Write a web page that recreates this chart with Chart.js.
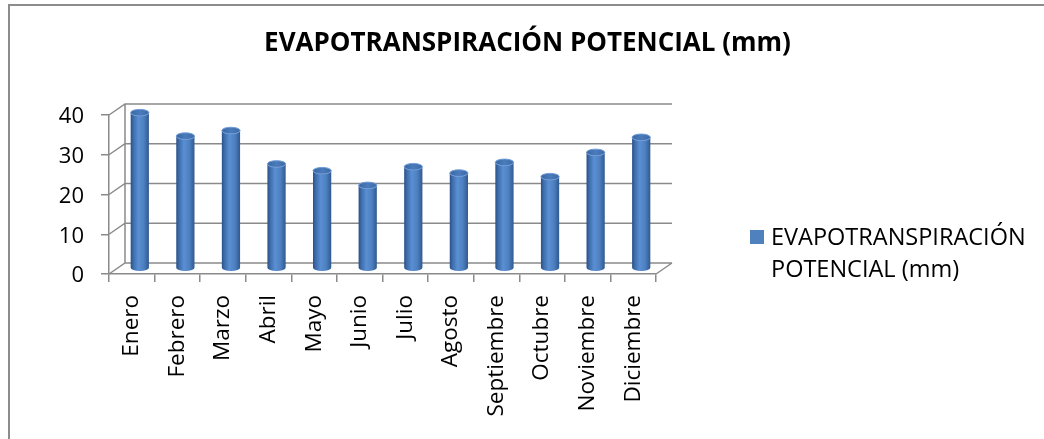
<!DOCTYPE html>
<html>
<head>
<meta charset="utf-8">
<script src="https://cdn.jsdelivr.net/npm/chart.js@4.4.1/dist/chart.umd.min.js"></script>
<style>
  html, body { margin: 0; padding: 0; background: #fff; }
</style>
</head>
<body>
<canvas id="etpChart" width="1044" height="439"></canvas>
<script>
// datos
const months = ['Enero', 'Febrero', 'Marzo', 'Abril', 'Mayo', 'Junio', 'Julio',
  'Agosto', 'Septiembre', 'Octubre', 'Noviembre', 'Diciembre'];
const etpValues = [39.2, 33.3, 34.7, 26.3, 24.6, 20.9, 25.6, 24.0, 26.7, 23.1, 29.2, 33.0];
const yTicks = [0, 10, 20, 30, 40];
const seriesName = 'EVAPOTRANSPIRACIÓN POTENCIAL (mm)';
const legendLines = ['EVAPOTRANSPIRACIÓN', 'POTENCIAL (mm)'];

// profundidad del efecto 3D (pared del fondo respecto al eje frontal)
const DX = 16;
const DY = -11;
const gridColor = '#8a8a8a';

function drawCylinder(ctx, cx, top, bottom, w, ry) {
  const x0 = cx - w / 2, x1 = cx + w / 2;
  const g = ctx.createLinearGradient(x0, 0, x1, 0);
  g.addColorStop(0, '#2b5088');
  g.addColorStop(0.15, '#3d6dab');
  g.addColorStop(0.42, '#5a8fd3');
  g.addColorStop(0.72, '#4d80c0');
  g.addColorStop(1, '#30598f');
  ctx.beginPath();
  ctx.moveTo(x0, top);
  ctx.lineTo(x0, bottom);
  ctx.ellipse(cx, bottom, w / 2, ry, 0, Math.PI, 0, true);
  ctx.lineTo(x1, top);
  ctx.ellipse(cx, top, w / 2, ry, 0, 0, Math.PI, false);
  ctx.closePath();
  ctx.fillStyle = g;
  ctx.fill();

  const cap = ctx.createLinearGradient(x0, 0, x1, 0);
  cap.addColorStop(0, '#3a67a3');
  cap.addColorStop(0.5, '#4a7bbb');
  cap.addColorStop(1, '#3c6aa6');
  ctx.beginPath();
  ctx.ellipse(cx, top, w / 2, ry, 0, 0, Math.PI * 2);
  ctx.fillStyle = cap;
  ctx.fill();
  ctx.strokeStyle = '#6f9bd6';
  ctx.lineWidth = 1;
  ctx.stroke();
}

const chart3d = {
  id: 'chart3d',
  beforeDraw(chart) {
    const ctx = chart.ctx;
    ctx.save();
    ctx.fillStyle = '#fff';
    ctx.fillRect(0, 0, chart.width, chart.height);
    ctx.strokeStyle = '#8c8c8c';
    ctx.lineWidth = 2;
    ctx.strokeRect(9, 5, chart.width + 20, chart.height + 20);
    ctx.restore();
  },
  beforeDatasetsDraw(chart) {
    const ctx = chart.ctx;
    const { left, right } = chart.chartArea;
    const y = chart.scales.y;
    ctx.save();
    ctx.strokeStyle = gridColor;
    ctx.lineWidth = 1.5;
    ctx.beginPath();
    yTicks.forEach(v => {
      const py = y.getPixelForValue(v);
      ctx.moveTo(left, py);
      ctx.lineTo(left + DX, py + DY);
      ctx.lineTo(right + DX, py + DY);
    });
    // suelo, lado derecho
    const y0 = y.getPixelForValue(0);
    ctx.moveTo(right, y0);
    ctx.lineTo(right + DX, y0 + DY);
    // borde izquierdo de la pared del fondo
    ctx.moveTo(left + DX, y.getPixelForValue(yTicks[yTicks.length - 1]) + DY);
    ctx.lineTo(left + DX, y0 + DY);
    ctx.stroke();
    ctx.restore();
  },
  afterDatasetsDraw(chart) {
    const ctx = chart.ctx;
    const meta = chart.getDatasetMeta(0);
    ctx.save();
    meta.data.forEach(el => {
      drawCylinder(ctx, el.x + DX / 2, el.y + DY / 2, el.base + DY / 2, el.width, 3.3);
    });
    ctx.restore();
  },
  afterDraw(chart) {
    const ctx = chart.ctx;
    const lx = chart.chartArea.right + 94;
    ctx.save();
    ctx.fillStyle = '#4f81bd';
    ctx.fillRect(lx, 230, 14, 14);
    ctx.fillStyle = '#000';
    ctx.font = '23.5px "Open Sans"';
    ctx.textBaseline = 'alphabetic';
    ctx.fillText(legendLines[0], lx + 21, 245);
    ctx.fillText(legendLines[1], lx + 21, 277);
    ctx.restore();
  }
};

new Chart(document.getElementById('etpChart'), {
  type: 'bar',
  data: {
    labels: months,
    datasets: [{
      label: seriesName,
      data: etpValues,
      backgroundColor: 'rgba(0,0,0,0)',
      borderWidth: 0,
      barPercentage: 0.5,
      categoryPercentage: 0.8
    }]
  },
  options: {
    responsive: false,
    animation: false,
    devicePixelRatio: 1,
    layout: { padding: { left: 11, top: 0, right: 0, bottom: 0 } },
    plugins: {
      legend: { display: false },
      tooltip: { enabled: false },
      title: {
        display: true,
        text: seriesName,
        color: '#000',
        font: { family: 'Open Sans', size: 26, weight: 'bold' },
        padding: { top: 28.4, bottom: 55.4 }
      }
    },
    scales: {
      x: {
        grid: { offset: true, drawOnChartArea: false, tickLength: 8, color: gridColor, lineWidth: 1.5 },
        border: { color: gridColor, width: 1.5 },
        ticks: { minRotation: 90, maxRotation: 90, autoSkip: false, padding: 13, color: '#000', font: { family: 'Open Sans', size: 22.5 } },
        afterFit: s => { s.height = 165; }
      },
      y: {
        min: 0,
        max: 40,
        grid: { drawOnChartArea: false, tickLength: 8, color: gridColor, lineWidth: 1.5 },
        border: { color: gridColor, width: 1.5 },
        ticks: { padding: 17, labelOffset: 2, color: '#000', font: { family: 'Open Sans', size: 22 } },
        afterBuildTicks: s => { s.ticks = yTicks.map(v => ({ value: v })); },
        afterFit: s => { s.width = 98; }
      },
      // eje vacio a la derecha que reserva el hueco de la leyenda
      legendSpace: {
        type: 'linear',
        position: 'right',
        grid: { display: false },
        border: { display: false },
        ticks: { display: false },
        afterFit: s => { s.width = 388; }
      }
    }
  },
  plugins: [chart3d]
});
</script>
</body>
</html>
